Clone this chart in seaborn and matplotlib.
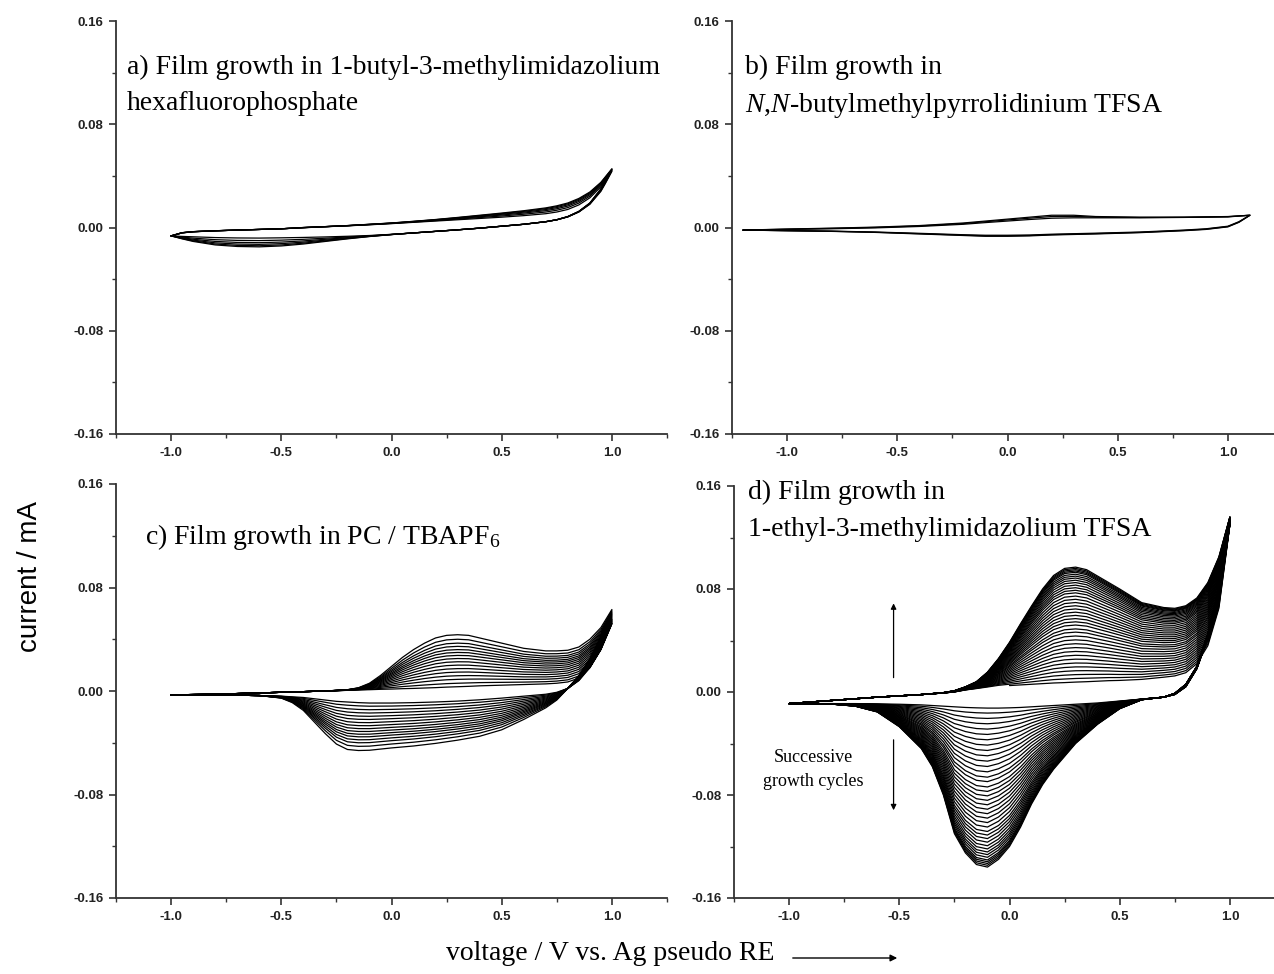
import numpy as np
import pandas as pd
import matplotlib
matplotlib.use("Agg")
import matplotlib.pyplot as plt
import seaborn as sns
from matplotlib.ticker import MultipleLocator, FormatStrFormatter

# -----------------------------
# a) 1-butyl-3-methylimidazolium hexafluorophosphate
# -----------------------------
a_v_fwd = [-1.0, -0.95, -0.9, -0.8, -0.7, -0.6, -0.5, -0.4, -0.3, -0.2, -0.1, 0.0,
           0.1, 0.2, 0.3, 0.4, 0.5, 0.6, 0.7, 0.75, 0.8, 0.85, 0.9, 0.95, 1.0]
a_fwd_first = [-0.0065, -0.0042, -0.0033, -0.0026, -0.002, -0.0015, -0.001, -0.0002, 0.0006, 0.0013,
               0.0021, 0.003, 0.004, 0.005, 0.006, 0.007, 0.008, 0.0092, 0.0107, 0.012, 0.014,
               0.0175, 0.023, 0.0315, 0.0435]
a_fwd_last = [-0.0065, -0.004, -0.0032, -0.0025, -0.002, -0.0015, -0.001, 0.0, 0.0007, 0.0015,
              0.0025, 0.0035, 0.0048, 0.0062, 0.0078, 0.0095, 0.0112, 0.013, 0.0152, 0.0168, 0.019,
              0.0225, 0.0275, 0.035, 0.0455]
a_v_rev = [1.0, 0.97, 0.95, 0.9, 0.85, 0.8, 0.75, 0.7, 0.6, 0.5, 0.4, 0.3, 0.2, 0.1, 0.0,
           -0.1, -0.2, -0.3, -0.4, -0.5, -0.6, -0.7, -0.8, -0.9, -0.95, -1.0]
a_rev_first = [0.0435, 0.034, 0.028, 0.018, 0.012, 0.0082, 0.006, 0.0045, 0.0025, 0.001, -0.0005,
               -0.0018, -0.003, -0.0042, -0.0053, -0.0062, -0.0068, -0.0073, -0.0077, -0.008,
               -0.0082, -0.0081, -0.0078, -0.0072, -0.0069, -0.0065]
a_rev_last = [0.0455, 0.036, 0.030, 0.019, 0.0125, 0.0085, 0.006, 0.0045, 0.0025, 0.001, -0.0005,
              -0.0018, -0.003, -0.0042, -0.0055, -0.007, -0.0088, -0.0108, -0.0128, -0.0143,
              -0.015, -0.0147, -0.0135, -0.0108, -0.0088, -0.0065]
a_cycle_current = [-0.008, -0.0098, -0.0113, -0.0125, -0.0135, -0.0143]   # at -0.5 V

# -----------------------------
# b) N,N-butylmethylpyrrolidinium TFSA
# -----------------------------
b_v_fwd = [-1.2, -1.0, -0.8, -0.6, -0.4, -0.2, -0.1, 0.0, 0.1, 0.2, 0.3, 0.4, 0.6, 0.8, 1.0, 1.1]
b_fwd_first = [-0.002, -0.0015, -0.001, -0.0003, 0.0008, 0.0025, 0.0038, 0.005, 0.0062, 0.0072,
               0.0075, 0.0075, 0.0075, 0.0078, 0.0082, 0.0095]
b_fwd_last = [-0.002, -0.0012, -0.0005, 0.0003, 0.0015, 0.0035, 0.005, 0.0065, 0.008, 0.0095,
              0.0095, 0.0085, 0.008, 0.008, 0.0085, 0.0095]
b_v_rev = [1.1, 1.05, 1.0, 0.9, 0.8, 0.6, 0.4, 0.2, 0.1, 0.0, -0.1, -0.2, -0.4, -0.6, -0.8, -1.0, -1.2]
b_rev_first = [0.0095, 0.0045, 0.001, -0.001, -0.002, -0.0035, -0.0044, -0.0052, -0.0058, -0.006,
               -0.006, -0.0056, -0.0045, -0.0035, -0.0028, -0.0024, -0.002]
b_rev_last = [0.0095, 0.004, 0.0005, -0.0015, -0.0025, -0.004, -0.005, -0.0058, -0.0065, -0.0068,
              -0.0068, -0.0062, -0.005, -0.0038, -0.003, -0.0025, -0.002]
b_cycle_current = [0.0072, 0.0085, 0.0095]   # at 0.2 V

# -----------------------------
# c) PC / TBAPF6
# -----------------------------
c_v_fwd = [-1.0, -0.8, -0.6, -0.4, -0.3, -0.2, -0.15, -0.1, -0.05, 0.0, 0.05, 0.1, 0.15, 0.2, 0.25,
           0.3, 0.35, 0.4, 0.5, 0.6, 0.7, 0.75, 0.8, 0.85, 0.9, 0.95, 1.0]
c_fwd_first = [-0.003, -0.0025, -0.0015, -0.0005, 0.0, 0.0005, 0.0008, 0.001, 0.0013, 0.0015,
               0.0018, 0.002, 0.0023, 0.0026, 0.003, 0.0033, 0.0036, 0.004, 0.0045, 0.005, 0.0055,
               0.006, 0.007, 0.010, 0.018, 0.032, 0.052]
c_fwd_last = [-0.003, -0.0025, -0.0015, -0.0005, 0.0, 0.001, 0.0025, 0.006, 0.012, 0.019, 0.026,
              0.032, 0.037, 0.041, 0.043, 0.0435, 0.043, 0.041, 0.037, 0.033, 0.031, 0.031, 0.0315,
              0.034, 0.040, 0.049, 0.063]
c_v_rev = [1.0, 0.95, 0.9, 0.85, 0.8, 0.75, 0.7, 0.6, 0.5, 0.4, 0.3, 0.2, 0.1, 0.0, -0.1, -0.15,
           -0.2, -0.25, -0.3, -0.35, -0.4, -0.45, -0.5, -0.6, -0.8, -1.0]
c_rev_first = [0.052, 0.032, 0.018, 0.008, 0.002, -0.001, -0.0025, -0.004, -0.0055, -0.0068,
               -0.0078, -0.0085, -0.009, -0.0093, -0.0093, -0.009, -0.0085, -0.008, -0.007, -0.006,
               -0.005, -0.0045, -0.004, -0.0035, -0.003, -0.003]
c_rev_last = [0.063, 0.042, 0.025, 0.012, 0.002, -0.007, -0.013, -0.022, -0.030, -0.035, -0.038,
              -0.0405, -0.0425, -0.044, -0.0458, -0.046, -0.0452, -0.041, -0.033, -0.024, -0.015,
              -0.009, -0.0055, -0.0035, -0.003, -0.003]
c_cycle_current = [0.0033, 0.006, 0.009, 0.0118, 0.0146, 0.0173, 0.020, 0.0226, 0.0251, 0.0275,
                   0.0298, 0.032, 0.0345, 0.037, 0.040, 0.0435]   # at 0.3 V

# -----------------------------
# d) 1-ethyl-3-methylimidazolium TFSA
# -----------------------------
d_v_fwd = [-1.0, -0.8, -0.6, -0.5, -0.4, -0.3, -0.25, -0.2, -0.15, -0.1, -0.05, 0.0, 0.05, 0.1,
           0.15, 0.2, 0.25, 0.3, 0.35, 0.4, 0.45, 0.5, 0.6, 0.7, 0.75, 0.8, 0.85, 0.9, 0.95, 1.0]
d_fwd_first = [-0.009, -0.0065, -0.004, -0.003, -0.002, -0.0008, 0.0, 0.0015, 0.0025, 0.0035,
               0.0045, 0.005, 0.0055, 0.006, 0.0065, 0.007, 0.0073, 0.0077, 0.008, 0.0084, 0.0088,
               0.009, 0.0098, 0.0115, 0.0125, 0.015, 0.022, 0.036, 0.065, 0.13]
d_fwd_last = [-0.009, -0.0065, -0.004, -0.003, -0.002, -0.0005, 0.001, 0.004, 0.008, 0.0154, 0.026,
              0.0386, 0.053, 0.0668, 0.080, 0.0905, 0.096, 0.097, 0.095, 0.090, 0.085, 0.080,
              0.0694, 0.0656, 0.065, 0.067, 0.073, 0.085, 0.105, 0.136]
d_v_rev = [1.0, 0.97, 0.95, 0.9, 0.85, 0.8, 0.75, 0.7, 0.6, 0.5, 0.4, 0.3, 0.2, 0.15, 0.1, 0.05,
           0.0, -0.05, -0.1, -0.15, -0.2, -0.25, -0.3, -0.35, -0.4, -0.5, -0.6, -0.7, -0.8, -1.0]
d_rev_first = [0.13, 0.095, 0.075, 0.042, 0.018, 0.004, -0.002, -0.004, -0.0055, -0.007, -0.0085,
               -0.0095, -0.0105, -0.011, -0.0115, -0.012, -0.0123, -0.0125, -0.0125, -0.0123,
               -0.012, -0.0115, -0.011, -0.0105, -0.010, -0.0095, -0.0092, -0.009, -0.009, -0.009]
d_rev_last = [0.136, 0.10, 0.08, 0.045, 0.020, 0.006, -0.001, -0.004, -0.006, -0.013, -0.025,
              -0.040, -0.060, -0.072, -0.087, -0.105, -0.120, -0.130, -0.136, -0.134, -0.125,
              -0.110, -0.080, -0.058, -0.044, -0.027, -0.0155, -0.011, -0.0095, -0.009]
d_cycle_current = [0.0077, 0.0105, 0.0135, 0.0165, 0.0195, 0.0225, 0.0255, 0.0285, 0.0315, 0.0345,
                   0.0375, 0.0405, 0.0435, 0.0465, 0.049, 0.052, 0.0545, 0.057, 0.0595, 0.062,
                   0.0645, 0.067, 0.0695, 0.072, 0.0745, 0.077, 0.079, 0.081, 0.083, 0.085, 0.0868,
                   0.0885, 0.090, 0.0915, 0.093, 0.094, 0.095, 0.096, 0.097]   # at 0.3 V
d_start_v = 0.0


def cycles_frame(v_fwd, fwd_first, fwd_last, v_rev, rev_first, rev_last, cyc, start_v=None):
    v_fwd, v_rev = np.array(v_fwd), np.array(v_rev)
    f0, f1 = np.array(fwd_first), np.array(fwd_last)
    r0, r1 = np.array(rev_first), np.array(rev_last)
    cyc = np.array(cyc)
    w = (cyc - cyc[0]) / (cyc[-1] - cyc[0])
    frames = []
    for k, wk in enumerate(w):
        fwd = f0 + wk * (f1 - f0)
        rev = r0 + wk * (r1 - r0)
        keep = np.ones(len(v_fwd), bool)
        if k == 0 and start_v is not None:
            keep = v_fwd >= start_v
        v = np.concatenate([v_fwd[keep], v_rev])
        i = np.concatenate([fwd[keep], rev])
        frames.append(pd.DataFrame({"V": v, "I": i, "cycle": k}))
    return pd.concat(frames, ignore_index=True)


panels = [
    cycles_frame(a_v_fwd, a_fwd_first, a_fwd_last, a_v_rev, a_rev_first, a_rev_last, a_cycle_current),
    cycles_frame(b_v_fwd, b_fwd_first, b_fwd_last, b_v_rev, b_rev_first, b_rev_last, b_cycle_current),
    cycles_frame(c_v_fwd, c_fwd_first, c_fwd_last, c_v_rev, c_rev_first, c_rev_last, c_cycle_current),
    cycles_frame(d_v_fwd, d_fwd_first, d_fwd_last, d_v_rev, d_rev_first, d_rev_last, d_cycle_current,
                 start_v=d_start_v),
]

sns.set_theme(style="ticks")
plt.rcParams["font.family"] = ["Liberation Sans", "DejaVu Sans"]
plt.rcParams["text.color"] = "black"
plt.rcParams["axes.unicode_minus"] = False
plt.rcParams["mathtext.fontset"] = "custom"
plt.rcParams["mathtext.rm"] = "Liberation Serif"
plt.rcParams["mathtext.it"] = "Liberation Serif:italic"

W, H = 1274, 974
fig = plt.figure(figsize=(12.74, 9.74), dpi=100)
boxes = [(116, 21, 551, 413), (732, 21, 551, 413), (116, 484, 551, 414), (734, 486, 551, 412)]
axes = []
for (x0, y0, w, h), df in zip(boxes, panels):
    ax = fig.add_axes([x0 / W, 1 - (y0 + h) / H, w / W, h / H])
    sns.lineplot(data=df, x="V", y="I", units="cycle", estimator=None, sort=False,
                 color="black", lw=0.9, ax=ax, legend=False)
    ax.set_xlim(-1.25, 1.25)
    ax.set_ylim(-0.16, 0.16)
    ax.xaxis.set_major_locator(MultipleLocator(0.5))
    ax.xaxis.set_minor_locator(MultipleLocator(0.25))
    ax.yaxis.set_major_locator(MultipleLocator(0.08))
    ax.yaxis.set_minor_locator(MultipleLocator(0.04))
    ax.xaxis.set_major_formatter(FormatStrFormatter("%.1f"))
    ax.yaxis.set_major_formatter(FormatStrFormatter("%.2f"))
    ax.set_xlabel("")
    ax.set_ylabel("")
    for s in ["top", "right"]:
        ax.spines[s].set_visible(False)
    for s in ["left", "bottom"]:
        ax.spines[s].set_linewidth(1.3)
        ax.spines[s].set_color("#333333")
    ax.tick_params(which="major", direction="out", length=5, width=1.2, color="#333333",
                   labelsize=9.5, pad=4)
    ax.tick_params(which="minor", direction="out", length=3, width=1.0, color="#333333")
    for lab in ax.get_xticklabels() + ax.get_yticklabels():
        lab.set_fontweight("bold")
        lab.set_color("#222222")
    axes.append(ax)

serif = "Liberation Serif"
fs = 20
axa, axb, axc, axd = axes
axa.text(-1.2, 0.1186, "a) Film growth in 1-butyl-3-methylimidazolium", family=serif, fontsize=fs)
axa.text(-1.2, 0.0907, "hexafluorophosphate", family=serif, fontsize=fs)
axb.text(-1.193, 0.119, "b) Film growth in", family=serif, fontsize=fs)
axb.text(-1.193, 0.0894, r"$\mathit{N{,}N}$-butylmethylpyrrolidinium TFSA", family=serif, fontsize=fs)
axc.text(-1.12, 0.114, r"c) Film growth in PC / TBAPF$_6$", family=serif, fontsize=fs)
axd.text(-1.1875, 0.150, "d) Film growth in", family=serif, fontsize=fs)
axd.text(-1.1875, 0.121, "1-ethyl-3-methylimidazolium TFSA", family=serif, fontsize=fs)

axd.text(-0.89, -0.06, "Successive\ngrowth cycles", family=serif, fontsize=13,
         ha="center", va="center", linespacing=1.5)
arrow = dict(arrowstyle="-|>", color="black", lw=0.9, mutation_scale=8)
axd.annotate("", xy=(-0.526, 0.071), xytext=(-0.526, 0.009), arrowprops=arrow)
axd.annotate("", xy=(-0.526, -0.094), xytext=(-0.526, -0.035), arrowprops=arrow)

fig.text(30 / W, 1 - 577 / H, "current / mA", rotation=90, ha="center", va="center", fontsize=20)
fig.text(610 / W, 1 - 953 / H, "voltage / V vs. Ag pseudo RE", family=serif, fontsize=20,
         ha="center", va="center")
axc.annotate("", xy=(900 / W, 1 - 958 / H), xytext=(790 / W, 1 - 958 / H),
             xycoords="figure fraction", textcoords="figure fraction",
             arrowprops=dict(arrowstyle="-|>", color="black", lw=1.0, mutation_scale=10),
             annotation_clip=False)

fig.savefig("out.png", dpi=100)
